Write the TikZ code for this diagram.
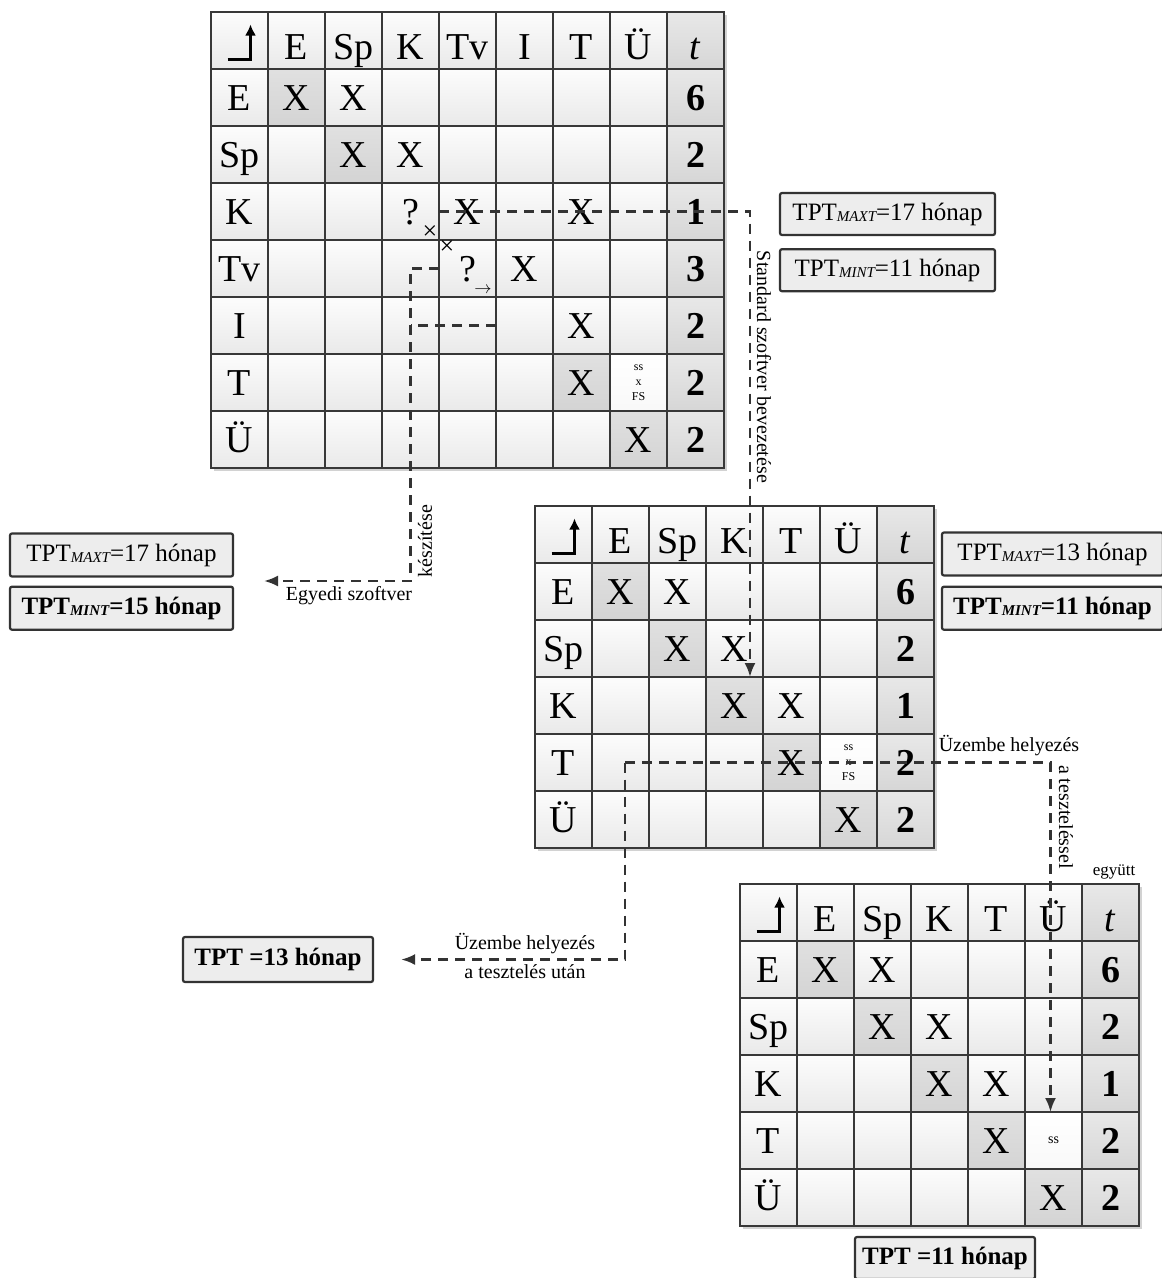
\documentclass[tikz,border=0pt]{standalone}
\usepackage{fontspec}
\setmainfont{Liberation Serif}
\usetikzlibrary{arrows.meta,positioning,backgrounds}

\newcommand{\tptsub}[1]{\raisebox{-1.5pt}{\fontsize{15}{15}\selectfont\itshape #1}}

\begin{document}
\begin{tikzpicture}[
  x=1pt, y=-1pt,
  cell/.style={minimum size=57pt, inner sep=0pt, outer sep=0pt, top color=gray!2, bottom color=gray!17},
  dcell/.style={cell, top color=gray!24, bottom color=gray!34},
  tcell/.style={cell, top color=gray!18, bottom color=gray!32},
  pcell/.style={cell, top color=white, bottom color=gray!5},
  gline/.style={draw=black!78, line width=2.2pt},
  txt/.style={inner sep=0pt, text height=25pt, text depth=0pt, font=\fontsize{38}{40}\selectfont},
  htxt/.style={txt, yshift=-6pt},
  num/.style={txt, font=\fontsize{38}{40}\selectfont\bfseries},
  tinytxt/.style={inner sep=0pt, align=center, font=\fontsize{12}{15}\selectfont},
  tpt/.style={draw=black!80, line width=2.2pt, rounded corners=2pt, fill=gray!14, minimum height=43pt, inner sep=2pt, font=\fontsize{25}{28}\selectfont},
  tptb/.style={tpt, font=\fontsize{25}{28}\selectfont\bfseries},
  lbl/.style={inner sep=1pt, font=\fontsize{20}{22}\selectfont},
  dline/.style={draw=black!80, line width=2.4pt, dash pattern=on 10pt off 7pt},
  arr/.style={dline, -{Latex[length=14pt,width=11pt]}},
  corner/.style={line width=2.6pt, -{Latex[length=11pt,width=11pt]}}
]
\begin{scope}[on background layer]
  \fill[white] (0,0) rectangle (1162,1278);
\end{scope}
\useasboundingbox (0,0) rectangle (1162,1278);

% first matrix (E, Sp, K, Tv, I, T, Ü)
\foreach \r in {0,...,7}
  \foreach \c in {0,...,8} {
    \pgfmathtruncatemacro\kind{\c==8 ? 2 : ((\r==\c && (\r==1 || \r==2 || \r==6 || \r==7)) ? 1 : ((\r==6 && \c==7) ? 3 : 0))}
    \ifcase\kind \def\sty{cell}\or\def\sty{dcell}\or\def\sty{tcell}\or\def\sty{pcell}\fi
    \node[\sty] (a-\r-\c) at ({239.5+57*\c}, {40.5+57*\r}) {};
  }
\foreach \c in {1,...,8} \draw[gline] (a-0-\c.north west) -- (a-7-\c.south west);
\foreach \r in {1,...,7} \draw[gline] (a-\r-0.north west) -- (a-\r-8.north east);
\draw[gline, line width=2.6pt] (a-0-0.north west) rectangle (a-7-8.south east);
\foreach \c/\s in {1/E,2/Sp,3/K,4/Tv,5/I,6/T,7/Ü} {
  \node[htxt] (a-0-\c-t) at (a-0-\c) {\s};
  \node[txt] (a-\c-0-t) at (a-\c-0) {\s};
}
\node[htxt] (a-0-8-t) at (a-0-8) {\textit{t}};
\foreach \r/\c in {1/1,1/2,2/2,2/3,3/4,3/6,4/5,5/6,6/6,7/7}
  \node[txt] (a-\r-\c-t) at (a-\r-\c) {X};
\foreach \r/\c in {3/3,4/4}
  \node[txt] (a-\r-\c-t) at (a-\r-\c) {?};
\foreach \r/\n in {1/6,2/2,3/1,4/3,5/2,6/2,7/2}
  \node[num] (a-\r-8-t) at (a-\r-8) {\n};
\node[tinytxt] (a-6-7-t) at (a-6-7) {ss\\x\\FS};
\node[inner sep=0pt, font=\fontsize{26}{26}\selectfont] (xm1) at (430,233) {×};
\node[inner sep=0pt, font=\fontsize{26}{26}\selectfont] (xm2) at (447,248) {×};
\node[inner sep=0pt, font=\fontsize{16}{16}\selectfont] (rm) at (483,290) {$\rightarrow$};

% second matrix (standard software)
\foreach \r in {0,...,5}
  \foreach \c in {0,...,6} {
    \pgfmathtruncatemacro\kind{\c==6 ? 2 : ((\r==\c && \r>0) ? 1 : ((\r==4 && \c==5) ? 3 : 0))}
    \ifcase\kind \def\sty{cell}\or\def\sty{dcell}\or\def\sty{tcell}\or\def\sty{pcell}\fi
    \node[\sty] (b-\r-\c) at ({563.5+57*\c}, {534.5+57*\r}) {};
  }
\foreach \c in {1,...,6} \draw[gline] (b-0-\c.north west) -- (b-5-\c.south west);
\foreach \r in {1,...,5} \draw[gline] (b-\r-0.north west) -- (b-\r-6.north east);
\draw[gline, line width=2.6pt] (b-0-0.north west) rectangle (b-5-6.south east);

% third matrix (deployment with testing)
\foreach \r in {0,...,5}
  \foreach \c in {0,...,6} {
    \pgfmathtruncatemacro\kind{\c==6 ? 2 : ((\r==\c && \r>0) ? 1 : ((\r==4 && \c==5) ? 3 : 0))}
    \ifcase\kind \def\sty{cell}\or\def\sty{dcell}\or\def\sty{tcell}\or\def\sty{pcell}\fi
    \node[\sty] (c-\r-\c) at ({768.5+57*\c}, {912.5+57*\r}) {};
  }
\foreach \c in {1,...,6} \draw[gline] (c-0-\c.north west) -- (c-5-\c.south west);
\foreach \r in {1,...,5} \draw[gline] (c-\r-0.north west) -- (c-\r-6.north east);
\draw[gline, line width=2.6pt] (c-0-0.north west) rectangle (c-5-6.south east);

\foreach \m in {b,c} {
  \foreach \c/\s in {1/E,2/Sp,3/K,4/T,5/Ü} {
    \node[htxt] (\m-0-\c-t) at (\m-0-\c) {\s};
    \node[txt] (\m-\c-0-t) at (\m-\c-0) {\s};
  }
  \node[htxt] (\m-0-6-t) at (\m-0-6) {\textit{t}};
  \foreach \r/\c in {1/1,1/2,2/2,2/3,3/3,3/4,4/4,5/5}
    \node[txt] (\m-\r-\c-t) at (\m-\r-\c) {X};
  \foreach \r/\n in {1/6,2/2,3/1,4/2,5/2}
    \node[num] (\m-\r-6-t) at (\m-\r-6) {\n};
}
\node[tinytxt] (b-4-5-t) at (b-4-5) {ss\\x\\FS};
\node[tinytxt, font=\fontsize{14}{15}\selectfont] (c-4-5-t) at (c-4-5) {ss};

\foreach \m in {a,b,c}
  \draw[corner] ([shift={(-12,19)}]\m-0-0.center) -| ([shift={(11,-16)}]\m-0-0.center);

% result boxes
\node[tpt, minimum width=223pt] (ta) at (121.5,555) {TPT\tptsub{MAXT}=17 hónap};
\node[tptb, minimum width=223pt, below=8pt of ta] (tb) {TPT\tptsub{MINT}=15 hónap};
\node[tpt, minimum width=215pt, minimum height=42pt] (tc) at (887.5,214) {TPT\tptsub{MAXT}=17 hónap};
\node[tpt, minimum width=215pt, minimum height=42pt, below=12pt of tc] (td) {TPT\tptsub{MINT}=11 hónap};
\node[tpt, minimum width=221pt] (te) at (1052.5,554) {TPT\tptsub{MAXT}=13 hónap};
\node[tptb, minimum width=221pt, below=9pt of te] (tf) {TPT\tptsub{MINT}=11 hónap};
\node[tptb, minimum width=190pt, minimum height=45pt] (tg) at (278,959.5) {TPT =13 hónap};
\node[tptb, minimum width=180pt, minimum height=42pt] (th) at (945,1258) {TPT =11 hónap};

% dashed routes
\coordinate (stdend) at ([xshift=15.5pt]b-3-3.north);
\draw[arr] (a-3-4.west) -| (stdend);
\node[lbl, rotate=-90] (stdlbl) at (764,367) {Standard szoftver bevezetése};

\coordinate (egyend) at (264,581);
\draw[arr] (a-4-4.west) -| (a-7-3.center |- egyend) -- (egyend);
\draw[dline] (a-5-5.west) -- (a-5-3.center);
\node[lbl, rotate=90] (keslbl) at (425,541) {készítése};
\node[lbl] (egylbl) at (349,596) {Egyedi szoftver};

\coordinate (usplit) at ([xshift=4.5pt]b-4-1.center);
\coordinate (uzend) at ([xshift=-3pt]c-4-5.north);
\draw[arr] (usplit) -| (uzend);
\draw[arr] (usplit) |- ([xshift=27pt]tg.east);
\node[lbl] (uz1) at (1009,746) {Üzembe helyezés};
\node[lbl, rotate=-90] (uz2) at (1066,817) {a teszteléssel};
\node[lbl, font=\fontsize{17}{18}\selectfont] (uz3) at (1114,872) {együtt};
\node[lbl] (uz4) at (525,944) {Üzembe helyezés};
\node[lbl] (uz5) at (525,972) {a tesztelés után};

\begin{scope}[on background layer]
  \foreach \m/\e in {a/7-8,b/5-6,c/5-6}
    \fill[gray!35] ([shift={(3,3)}]\m-0-0.north west) rectangle ([shift={(3,3)}]\m-\e.south east);
\end{scope}
\end{tikzpicture}
\end{document}
